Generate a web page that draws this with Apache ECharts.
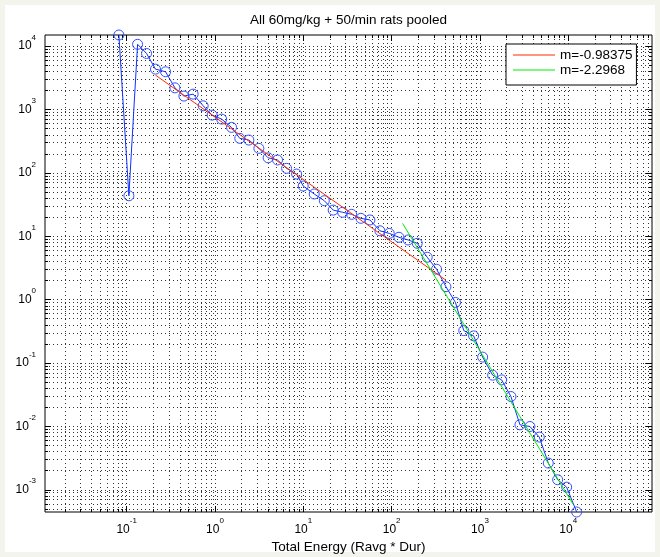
<!DOCTYPE html>
<html><head><meta charset="utf-8">
<script src="https://cdn.jsdelivr.net/npm/echarts@6/dist/echarts.min.js"></script>
<style>
html,body{margin:0;padding:0;background:#f3f5ec;}
#frame{position:absolute;left:5px;top:5px;width:650px;height:547px;background:#fff;}
#c{position:absolute;left:0;top:0;width:660px;height:557px;}
</style></head><body><div id="frame"></div><div id="c"></div>
<script>
// ---- data ----
const titleText = 'All 60mg/kg + 50/min rats pooled';
const xTitle = 'Total Energy (Ravg * Dur)';
const energy = [0.0817, 0.106, 0.133, 0.168, 0.212, 0.276, 0.352, 0.445, 0.566, 0.735,
  0.929, 1.19, 1.54, 1.91, 2.42, 3.14, 4.0, 5.11, 6.47, 8.40,
  9.98, 13.3, 17.3, 21.8, 27.9, 35.3, 44.9, 56.8, 73.7, 94.0,
  121, 154, 195, 253, 323, 412, 528, 656, 848, 1073,
  1393, 1762, 2244, 2838, 3683, 4700, 5943, 7586, 9590, 12450];
const counts = [15000, 43.6, 10700, 7670, 4340, 3940, 2200, 1630, 1750, 1145,
  817, 706, 523, 351, 330, 244, 173, 160, 118, 95.9,
  62.1, 46.5, 36.4, 25.9, 23.9, 22.2, 19.2, 18.1, 12.2, 11.1,
  9.64, 8.75, 7.75, 4.67, 3.02, 1.60, 0.904, 0.325, 0.268, 0.124,
  0.0643, 0.0542, 0.0296, 0.0106, 0.00996, 0.00678, 0.00264, 0.00144, 0.00110, 0.000446];
const fit1Name = 'm=-0.98375';
const fit1X = [0.212, 412];
const fit1Y = [3490, 2.03];
const fit2Name = 'm=-2.2968';
const fit2X = [133, 11400];
const fit2Y = [16.0, 0.000586];
const xMin = 0.0119, xMax = 88750;
const yMin = 0.000446, yMax = 15000;
const xMajorTicks = [0.1, 1, 10, 100, 1000, 10000];
const yMajorTicks = [0.001, 0.01, 0.1, 1, 10, 100, 1000, 10000];
const xDecades = [0.01, 0.1, 1, 10, 100, 1000, 10000];
const yDecades = [0.0001, 0.001, 0.01, 0.1, 1, 10, 100, 1000, 10000];
const minorMult = [2, 3, 4, 5, 6, 7, 8, 9];

function minorTicks(decades, lo, hi) {
  const out = [];
  decades.forEach(d => minorMult.forEach(m => {
    const v = +(d * m).toPrecision(3);
    if (v > lo && v < hi) out.push(v);
  }));
  return out;
}
const xMinorTicks = minorTicks(xDecades, xMin, xMax);
const yMinorTicks = minorTicks(yDecades, yMin, yMax);

const FONT = '"Liberation Sans", Arial, Helvetica, sans-serif';
const gridLine = { show: true, lineStyle: { color: '#333', width: 1, type: [1, 3] } };
function powLabel(v) {
  const e = Math.round(Math.log10(v));
  return '{b|10}{s|' + e + '}';
}
const rich = {
  b: { fontSize: 12, lineHeight: 25, verticalAlign: 'middle', color: '#000', fontFamily: FONT },
  s: { fontSize: 8, verticalAlign: 'top', color: '#000', fontFamily: FONT }
};

function makeAxis(pos, min, max, ticks, len, withSplit, labels, extra) {
  return Object.assign({
    type: 'log', logBase: 10, position: pos, min: min, max: max,
    axisLine: { show: false },
    axisTick: { show: true, inside: true, length: len, customValues: ticks,
      lineStyle: { color: '#000', width: 1 } },
    axisLabel: labels ? { show: true, customValues: ticks, formatter: powLabel, rich: rich,
      margin: pos === 'bottom' ? 5 : 9 } : { show: false },
    splitLine: withSplit ? gridLine : { show: false },
    minorTick: { show: false }, minorSplitLine: { show: false }
  }, extra || {});
}

const chart = echarts.init(document.getElementById('c'), null, { renderer: 'canvas' });
chart.setOption({
  animation: false,
  backgroundColor: 'transparent',
  textStyle: { fontFamily: FONT },
  grid: { left: 45, right: 8, top: 35, bottom: 45, show: true, borderColor: '#000', borderWidth: 1,
    backgroundColor: '#fff', containLabel: false, outerBoundsMode: 'none' },
  graphic: [{ type: 'text', x: 348.5, y: 20,
    style: { text: titleText, textAlign: 'center', textVerticalAlign: 'middle', font: '13.5px ' + FONT, fill: '#000' } }],
  legend: {
    data: [{ name: fit1Name, icon: 'rect' }, { name: fit2Name, icon: 'rect' }],
    orient: 'vertical', left: 506, top: 44,
    padding: [4, 4, 8, 7], itemGap: 1, itemWidth: 42, itemHeight: 1,
    backgroundColor: '#fff', borderColor: '#000', borderWidth: 1, borderRadius: 0,
    textStyle: { fontSize: 13.5, color: '#000', fontFamily: FONT, lineHeight: 14 }
  },
  xAxis: [
    makeAxis('bottom', xMin, xMax, xMajorTicks, 6, true, true,
      { name: xTitle, nameLocation: 'middle', nameGap: 22,
        nameTextStyle: { fontSize: 13.5, color: '#000', fontFamily: FONT } }),
    makeAxis('bottom', xMin, xMax, xMinorTicks, 3, true, false),
    makeAxis('top', xMin, xMax, xMajorTicks, 6, false, false),
    makeAxis('top', xMin, xMax, xMinorTicks, 3, false, false)
  ],
  yAxis: [
    makeAxis('left', yMin, yMax, yMajorTicks, 6, true, true),
    makeAxis('left', yMin, yMax, yMinorTicks, 3, true, false),
    makeAxis('right', yMin, yMax, yMajorTicks, 6, false, false),
    makeAxis('right', yMin, yMax, yMinorTicks, 3, false, false)
  ],
  series: [
    { name: 'data', type: 'line', xAxisIndex: 0, yAxisIndex: 0,
      data: energy.map((x, i) => [x, counts[i]]),
      symbol: 'circle', symbolSize: 10, showSymbol: true,
      lineStyle: { color: '#1030ff', width: 1 },
      itemStyle: { color: 'rgba(0,0,0,0)', borderColor: '#3050ff', borderWidth: 1 },
      z: 3 },
    { name: fit1Name, type: 'line', symbol: 'none',
      data: fit1X.map((x, i) => [x, fit1Y[i]]),
      lineStyle: { color: '#ff2a00', width: 1 }, itemStyle: { color: '#ff2a00' }, z: 4 },
    { name: fit2Name, type: 'line', symbol: 'none',
      data: fit2X.map((x, i) => [x, fit2Y[i]]),
      lineStyle: { color: '#00ee00', width: 1 }, itemStyle: { color: '#00ee00' }, z: 5 }
  ]
});
</script></body></html>
